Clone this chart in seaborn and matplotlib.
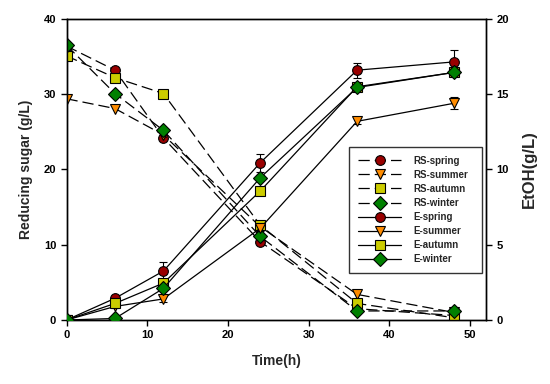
import matplotlib
matplotlib.use("Agg")
import matplotlib.pyplot as plt
import seaborn as sns
import numpy as np
from matplotlib.lines import Line2D

# ---- data ----
time_h = [0, 6, 12, 24, 36, 48]

rs_spring = [36.4, 33.2, 24.2, 10.4, 1.5, 0.6]
rs_summer = [29.4, 28.1, 24.6, 12.4, 3.4, 1.0]
rs_autumn = [35.1, 32.2, 30.1, 12.6, 2.2, 0.3]
rs_winter = [36.5, 30.1, 25.2, 11.1, 1.2, 1.2]

e_spring = [0.0, 1.44, 3.25, 10.45, 16.6, 17.15]
e_summer = [0.0, 0.9, 1.4, 6.1, 13.2, 14.4]
e_autumn = [0.0, 1.1, 2.45, 8.57, 15.5, 16.45]
e_winter = [0.0, 0.1, 2.1, 9.45, 15.45, 16.45]

e_spring_err = [0.0, 0.15, 0.6, 0.6, 0.5, 0.8]
e_summer_err = [0.0, 0.1, 0.2, 0.2, 0.2, 0.4]
e_autumn_err = [0.0, 0.15, 0.3, 0.2, 0.2, 0.2]
e_winter_err = [0.0, 0.05, 0.2, 0.2, 0.2, 0.2]

season_names = ["spring", "summer", "autumn", "winter"]
colors = ["#990000", "#FF8C00", "#CCCC00", "#008000"]
markers = ["o", "v", "s", "D"]
msizes = [7.0, 7.6, 6.6, 6.8]

sns.set_style("ticks")
plt.rcParams["font.family"] = ["Liberation Sans", "DejaVu Sans"]
plt.rcParams["font.weight"] = "bold"

fig = plt.figure(figsize=(5.5, 3.84), dpi=100)
ax = fig.add_axes([0.121, 0.1667, 0.763, 0.7838])
ax2 = ax.twinx()

dash = (0, (9, 4))
rs_data = [rs_spring, rs_summer, rs_autumn, rs_winter]
e_data = [e_spring, e_summer, e_autumn, e_winter]
e_errs = [e_spring_err, e_summer_err, e_autumn_err, e_winter_err]

handles = []
for name, vals, c, m, ms in zip(season_names, rs_data, colors, markers, msizes):
    sns.lineplot(x=time_h, y=vals, ax=ax, color="black", linewidth=0.9,
                 linestyle=dash, marker=m, markersize=ms, markerfacecolor=c,
                 markeredgecolor="black", markeredgewidth=0.8, zorder=3)
    handles.append(Line2D([], [], color="black", linewidth=0.9, linestyle=dash,
                          marker=m, markersize=ms, markerfacecolor=c,
                          markeredgecolor="black", markeredgewidth=0.8,
                          label="RS-" + name))

for name, vals, err, c, m, ms in zip(season_names, e_data, e_errs, colors, markers, msizes):
    ax2.errorbar(time_h, vals, yerr=err, fmt="none", ecolor="black",
                 elinewidth=0.8, capsize=3, capthick=0.8, zorder=2)
    sns.lineplot(x=time_h, y=vals, ax=ax2, color="black", linewidth=0.9,
                 linestyle="-", marker=m, markersize=ms, markerfacecolor=c,
                 markeredgecolor="black", markeredgewidth=0.8, zorder=3)
    handles.append(Line2D([], [], color="black", linewidth=0.9, linestyle="-",
                          marker=m, markersize=ms, markerfacecolor=c,
                          markeredgecolor="black", markeredgewidth=0.8,
                          label="E-" + name))

ax.set_xlim(0, 52)
ax.set_ylim(0, 40)
ax2.set_ylim(0, 20)
ax.set_xticks([0, 10, 20, 30, 40, 50])
ax.set_yticks([0, 10, 20, 30, 40])
ax2.set_yticks([0, 5, 10, 15, 20])

for a in (ax, ax2):
    for s in a.spines.values():
        s.set_visible(True)
        s.set_linewidth(1.0)
        s.set_color("black")
    a.tick_params(axis="both", direction="out", length=4, width=1.0,
                  labelsize=8, colors="black")
    for lab in a.get_xticklabels() + a.get_yticklabels():
        lab.set_fontweight("bold")

ax.set_xlabel("Time(h)", fontsize=10, fontweight="bold", labelpad=10)
ax.set_ylabel("Reducing sugar (g/L)", fontsize=10, fontweight="bold", labelpad=8)
ax2.set_ylabel("EtOH(g/L)", fontsize=12, fontweight="bold", labelpad=9)

leg = ax2.legend(handles=handles, loc="lower left",
                 bbox_to_anchor=(0.673, 0.156, 0.316, 0.429), mode="expand",
                 frameon=True, fancybox=False, edgecolor="black",
                 prop={"size": 7, "weight": "bold"}, handlelength=4.5,
                 labelspacing=0.42, borderpad=0.9, handletextpad=1.2,
                 borderaxespad=0)
leg.get_frame().set_linewidth(1.0)
leg.set_zorder(10)

fig.savefig("out.png", dpi=100)
